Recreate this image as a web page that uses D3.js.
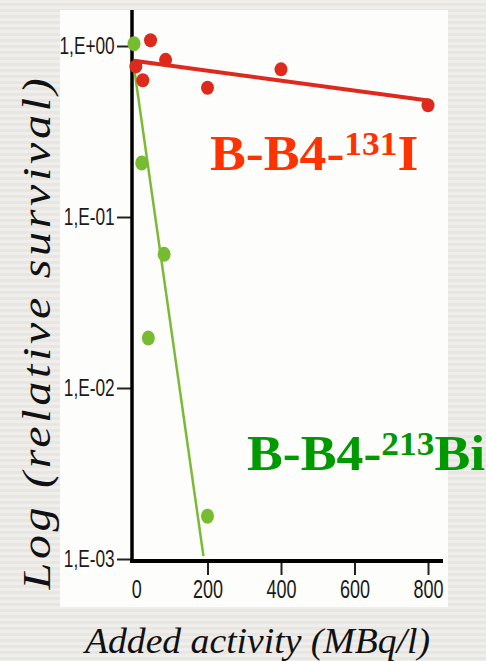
<!DOCTYPE html>
<html><head><meta charset="utf-8">
<script src="https://cdn.jsdelivr.net/npm/d3@7"></script>
<style>html,body{margin:0;padding:0;background:#ecebe8;} svg{display:block}</style>
</head><body>
<svg id="chart" width="486" height="661"></svg>
<script>
const xTicks = [0, 200, 400, 600, 800];
const yTicks = [1, 0.1, 0.01, 0.001];
const yTickLabels = ["1,E+00", "1,E-01", "1,E-02", "1,E-03"];
const iodineActivity = [5, 24, 45, 86, 200, 400, 800];
const iodineSurvival = [0.76, 0.63, 1.08, 0.83, 0.57, 0.73, 0.45];
const bismuthActivity = [0, 21, 39, 82, 200];
const bismuthSurvival = [1.03, 0.207, 0.0196, 0.0605, 0.00178];
const iodineFitActivity = [0, 800];
const iodineFitSurvival = [0.82, 0.48];
const bismuthFitActivity = [0, 189];
const bismuthFitSurvival = [0.75, 0.00104];
const seriesNames = ["B-B4-", "B-B4-"];
const isotopeMass = ["131", "213"];
const isotopeElement = ["I", "Bi"];
const xTitle = "Added activity (MBq/l)";
const yTitle = "Log (relative survival)";

const svg = d3.select("#chart");
const defs = svg.append("defs");
const pat = defs.append("pattern").attr("id", "stripes").attr("patternUnits", "userSpaceOnUse")
  .attr("width", 10).attr("height", 6);
pat.append("rect").attr("width", 10).attr("height", 6).attr("fill", "#efeeeb");
pat.append("rect").attr("y", 3).attr("width", 10).attr("height", 3).attr("fill", "#e7e6e3");
svg.append("rect").attr("width", 486).attr("height", 661).attr("fill", "url(#stripes)");
svg.append("rect").attr("x", 60).attr("y", 10).attr("width", 388).attr("height", 597).attr("fill", "#fdfdfb");

const x = d3.scaleLinear().domain([0, 800]).range([134, 428]);
const y = d3.scaleLog().domain([0.001, 1]).range([559, 46]);

const tickFont = "'Liberation Sans', Arial, sans-serif";

// X axis
const xAxis = svg.append("g").attr("transform", "translate(0,561)")
  .call(d3.axisBottom(x).tickValues(xTicks).tickSize(14).tickPadding(5).tickFormat(d3.format("d")));
xAxis.select(".domain").remove();
xAxis.selectAll(".tick line").attr("stroke", "#222").attr("stroke-width", 2)
  .attr("display", d => d === 0 ? "none" : null);
xAxis.selectAll(".tick text").attr("font-family", tickFont).attr("font-size", 25).attr("fill", "#1a1a1a")
  .attr("transform", "scale(0.72,1)").attr("dy", "0.72em");
xAxis.selectAll(".tick").filter(d => d === 0).select("text").attr("x", 3);

// Y axis
const yAxis = svg.append("g").attr("transform", "translate(132,0)")
  .call(d3.axisLeft(y).tickValues(yTicks).tickSize(15).tickPadding(3).tickFormat((d, i) => yTickLabels[i]));
yAxis.select(".domain").remove();
yAxis.selectAll(".tick line").attr("stroke", "#222").attr("stroke-width", 2);
yAxis.selectAll(".tick text").attr("font-family", tickFont).attr("font-size", 24).attr("fill", "#1a1a1a")
  .attr("x", -24).attr("transform", "scale(0.72,1)");

// Axis lines
svg.append("line").attr("x1", 132).attr("x2", 132).attr("y1", 10).attr("y2", 563)
  .attr("stroke", "#000").attr("stroke-width", 3.5);
svg.append("line").attr("x1", 130).attr("x2", 443).attr("y1", 561).attr("y2", 561)
  .attr("stroke", "#000").attr("stroke-width", 4);

const line = d3.line().x(d => x(d[0])).y(d => y(d[1]));

// Fit lines
svg.append("path").datum(d3.zip(iodineFitActivity, iodineFitSurvival)).attr("d", line)
  .attr("stroke", "#dd2a1c").attr("stroke-width", 4).attr("fill", "none");
svg.append("path").datum(d3.zip(bismuthFitActivity, bismuthFitSurvival)).attr("d", line)
  .attr("stroke", "#7aba35").attr("stroke-width", 2.5).attr("fill", "none");

// Points
svg.append("g").selectAll("ellipse").data(d3.zip(iodineActivity, iodineSurvival)).join("ellipse")
  .attr("cx", d => x(d[0])).attr("cy", d => y(d[1])).attr("rx", 6.5).attr("ry", 7)
  .attr("fill", "#dd2a1c");
svg.append("g").selectAll("ellipse").data(d3.zip(bismuthActivity, bismuthSurvival)).join("ellipse")
  .attr("cx", d => x(d[0])).attr("cy", d => y(d[1])).attr("rx", 6.5).attr("ry", 7.5)
  .attr("fill", "#77bb30");

// Legend labels
const serif = "'Liberation Serif', 'Times New Roman', serif";
const legendPos = [[210, 170, "#ff3300"], [247, 470, "#009900"]];
seriesNames.forEach((name, i) => {
  const t = svg.append("text")
    .attr("transform", `translate(${legendPos[i][0]},${legendPos[i][1]}) scale(1.075,1)`)
    .attr("font-family", serif).attr("font-weight", "bold").attr("font-size", 50)
    .attr("fill", legendPos[i][2]);
  t.append("tspan").text(name);
  t.append("tspan").attr("font-size", 33).attr("dy", -15).text(isotopeMass[i]);
  t.append("tspan").attr("dy", 15).text(isotopeElement[i]);
});

// Titles
svg.append("text").attr("x", 257.5).attr("y", 653).attr("text-anchor", "middle")
  .attr("font-family", serif).attr("font-style", "italic").attr("font-size", 35).attr("fill", "#111")
  .attr("textLength", 345).attr("lengthAdjust", "spacingAndGlyphs")
  .text(xTitle);
svg.append("text").attr("transform", "translate(50,332) rotate(-90)").attr("text-anchor", "middle")
  .attr("font-family", serif).attr("font-style", "italic").attr("font-size", 39).attr("fill", "#111")
  .attr("letter-spacing", 3)
  .attr("textLength", 515).attr("lengthAdjust", "spacingAndGlyphs")
  .text(yTitle);
</script>
</body></html>
